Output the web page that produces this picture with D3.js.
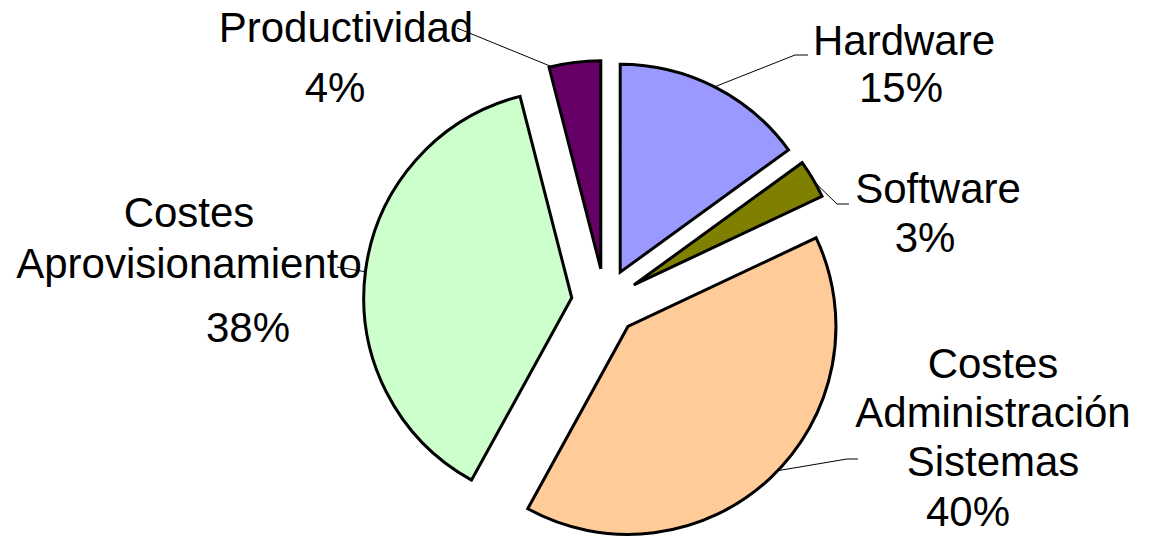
<!DOCTYPE html>
<html>
<head>
<meta charset="utf-8">
<script src="https://cdn.jsdelivr.net/npm/d3@7"></script>
<style>
  html, body { margin: 0; padding: 0; background: #fff; }
  svg { display: block; }
  text { font-family: "Liberation Sans", Arial, sans-serif; font-size: 42px; fill: #000; }
</style>
</head>
<body>
<div id="chart"></div>
<script>
// data
const categories = ['Hardware', 'Software', 'Costes Administración Sistemas', 'Costes Aprovisionamiento', 'Productividad'];
const nameLines = [['Hardware'], ['Software'], ['Costes', 'Administración', 'Sistemas'], ['Costes', 'Aprovisionamiento'], ['Productividad']];
const values = [15, 3, 40, 38, 4];
const colors = ['#9999ff', '#808000', '#ffcc99', '#ccffcc', '#660066'];

// label layout (placed by hand, like the original)
const labelLayout = [
  { x: 904, y: 55, lh: 47, px: 901, py: 102, elbow: [795, 55], end: [808, 55], attach: 0.5 },
  { x: 938, y: 203, lh: 49, px: 925, py: 252, elbow: [837, 204], end: [849, 204], attach: 0.6 },
  { x: 993, y: 378, lh: 49, px: 968, py: 526, elbow: [847, 459], end: [858, 459], attach: 0.48 },
  { x: 189, y: 227, lh: 51, px: 248, py: 342, elbow: [337, 267], end: [337, 267], attach: 0.5 },
  { x: 346, y: 42, lh: 60, px: 335, py: 102, elbow: [457, 28], end: [457, 28], attach: 0.05 }
];

const width = 1153, height = 536;
const cx = 605, cy = 302, radius = 208, explode = 33.5;

const svg = d3.select('#chart').append('svg')
  .attr('width', width)
  .attr('height', height);

const pie = d3.pie().sort(null).value(d => d)(values);
const arc = d3.arc().innerRadius(0).outerRadius(radius);

const g = svg.append('g').attr('transform', `translate(${cx},${cy})`);

// offset of a slice along its mid angle
function offset(d) {
  const a = (d.startAngle + d.endAngle) / 2;
  return [Math.sin(a) * explode, -Math.cos(a) * explode];
}

// leader lines
const total = d3.sum(values);
g.selectAll('.leader')
  .data(pie)
  .join('polyline')
    .attr('class', 'leader')
    .attr('fill', 'none')
    .attr('stroke', '#000')
    .attr('stroke-width', 1)
    .attr('points', (d, i) => {
      const [ox, oy] = offset(d);
      const L = labelLayout[i];
      const a = d.startAngle + (d.endAngle - d.startAngle) * L.attach;
      const sx = ox + Math.sin(a) * radius, sy = oy - Math.cos(a) * radius;
      return [[sx, sy], [L.elbow[0] - cx, L.elbow[1] - cy], [L.end[0] - cx, L.end[1] - cy]].join(' ');
    });

// slices
g.selectAll('.slice')
  .data(pie)
  .join('path')
    .attr('class', 'slice')
    .attr('d', arc)
    .attr('transform', d => `translate(${offset(d)})`)
    .attr('fill', (d, i) => colors[i])
    .attr('stroke', '#000')
    .attr('stroke-width', 3)
    .attr('stroke-linejoin', 'miter');

// labels
const labels = svg.selectAll('.label')
  .data(pie)
  .join('g')
    .attr('class', 'label');

labels.each(function(d, i) {
  const L = labelLayout[i];
  const el = d3.select(this);
  nameLines[i].forEach((t, k) => {
    el.append('text')
      .attr('x', L.x)
      .attr('y', L.y + k * L.lh)
      .attr('text-anchor', 'middle')
      .text(t);
  });
  el.append('text')
    .attr('x', L.px)
    .attr('y', L.py)
    .attr('text-anchor', 'middle')
    .text(Math.round(d.value / total * 100) + '%');
});
</script>
</body>
</html>
